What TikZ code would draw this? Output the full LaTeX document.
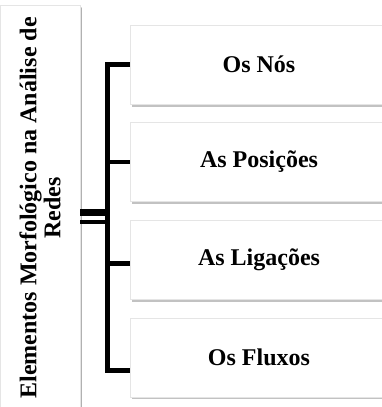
\documentclass[tikz,border=0pt]{standalone}
\usepackage{fontspec}
\setmainfont{Liberation Serif}
\usetikzlibrary{positioning, calc, shadows}
\definecolor{edgegray}{rgb}{0.9,0.9,0.9}
\definecolor{shadegray}{rgb}{0.6,0.6,0.6}

\begin{document}
\begin{tikzpicture}[
    x=1pt, y=-1pt,
    node distance=18pt,
    box/.style={
        rectangle,
        draw=edgegray,
        line width=0.6pt,
        fill=white,
        minimum width=258pt,
        minimum height=79pt,
        text centered,
        font=\fontsize{24}{24}\selectfont\bfseries,
        drop shadow={shadow xshift=1.5pt, shadow yshift=-2.5pt, fill=shadegray, opacity=0.6}
    },
    titlebox/.style={
        box,
        rotate=90,
        minimum width=405pt,
        minimum height=80pt,
        align=center,
        drop shadow={shadow xshift=2pt, shadow yshift=-1pt, fill=shadegray, opacity=0.4}
    },
    bracket/.style={
        line width=4.5pt,
        color=black,
        line join=miter
    }
]

\useasboundingbox (0,0) rectangle (381,407);

\node[titlebox] (rede) at (40,208) {Elementos Morfológico na Análise de\\Redes};

\node[box] (nos) at (259,64.5) {Os Nós};
\node[box, below=of nos] (posicoes) {As Posições};
\node[box, below=of posicoes] (ligacoes) {As Ligações};
\node[box, below=of ligacoes] (fluxos) {Os Fluxos};

\coordinate (hub) at (107.5,216);
\coordinate (hubA) at ($(hub)+(0,-3.5)$);
\coordinate (hubB) at ($(hub)+(0,5.5)$);
\coordinate (tieL) at ($(ligacoes.west)+(0,4)$);
\coordinate (tieF) at ($(fluxos.west)+(0,13)$);

\draw[bracket] (nos.west) -- (nos.west -| hub) -- (tieF -| hub) -- (tieF);
\draw[bracket] (posicoes.west -| hub) -- (posicoes.west);
\draw[bracket] (tieL -| hub) -- (tieL);

\draw[bracket, line width=7.5pt] (hubA -| rede.south) -- (hubA);
\draw[bracket, line width=4pt] (hubB -| rede.south) -- (hubB);

\end{tikzpicture}
\end{document}
